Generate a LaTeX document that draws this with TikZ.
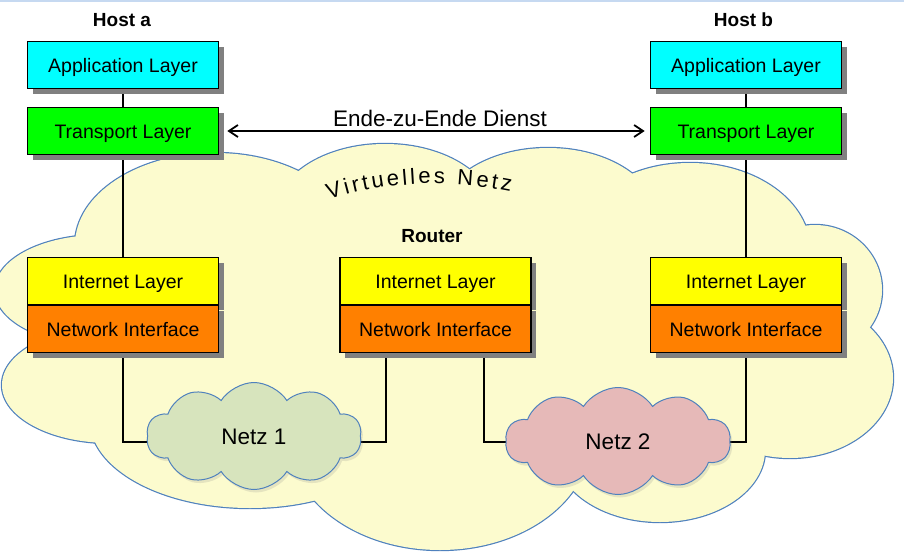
\documentclass[tikz,border=0pt]{standalone}
\usepackage{fontspec}
\setmainfont{Liberation Sans}
\usetikzlibrary{shapes.symbols,shadows,arrows.meta,decorations.text,backgrounds}
\definecolor{cloudfill}{RGB}{252,251,206}
\definecolor{cloudline}{RGB}{79,129,189}
\definecolor{netzA}{RGB}{215,228,189}
\definecolor{netzB}{RGB}{230,185,184}
\definecolor{appcol}{RGB}{0,255,255}
\definecolor{transcol}{RGB}{0,255,0}
\definecolor{inetcol}{RGB}{255,255,0}
\definecolor{niccol}{RGB}{255,128,0}
\definecolor{shadowcol}{RGB}{128,128,128}
\definecolor{toplinecol}{RGB}{198,217,241}
\begin{document}
\begin{tikzpicture}[x=1pt,y=-1pt,
  layerbox/.style={draw=black, line width=1.6pt, minimum width=191pt, minimum height=47pt,
    inner sep=0pt, text height=14pt, text depth=0pt, font=\fontsize{19.5}{23}\selectfont,
    drop shadow={shadow xshift=5pt, shadow yshift=-5pt, fill=shadowcol, opacity=1}},
  hostlabel/.style={font=\bfseries\fontsize{19}{23}\selectfont, anchor=base, inner sep=0pt},
  netzcloud/.style={cloud, cloud puffs=10, cloud puff arc=115, draw=cloudline, line width=1pt,
    inner sep=0pt, text height=16pt, text depth=0pt, font=\fontsize{22.5}{27}\selectfont,
    drop shadow={opacity=0.18, shadow xshift=2pt, shadow yshift=-3pt}},
  conn/.style={draw=black, line width=1.3pt},
  e2e/.style={line width=1.8pt, {Straight Barb[length=9pt,width=12pt]}-{Straight Barb[length=9pt,width=12pt]}}
]
\useasboundingbox (0,0) rectangle (904,557);

% top rule
\draw[toplinecol, line width=1.5pt] (0,0.75) -- (904,0.75);

% labels
\node[hostlabel] (hosta) at (122,26.5) {Host a};
\node[hostlabel] (hostb) at (743.5,26.5) {Host b};
\node[hostlabel] (router) at (432,242) {Router};
\node[anchor=base, inner sep=0pt, font=\fontsize{22.5}{27}\selectfont] (ende) at (440,126) {Ende-zu-Ende Dienst};

% Host a
\node[layerbox, fill=appcol] (aa) at (123,65) {Application Layer};
\node[layerbox, fill=transcol] (ta) at (123,131) {Transport Layer};
\node[layerbox, fill=inetcol] (ia) at (123,281) {Internet Layer};
\node[layerbox, fill=niccol] (na) at (123,329) {Network Interface};

% Router
\node[layerbox, fill=inetcol] (ir) at (435.5,281) {Internet Layer};
\node[layerbox, fill=niccol] (nr) at (435.5,329) {Network Interface};

% Host b
\node[layerbox, fill=appcol] (ab) at (746,65) {Application Layer};
\node[layerbox, fill=transcol] (tb) at (746,131) {Transport Layer};
\node[layerbox, fill=inetcol] (ib) at (746,281) {Internet Layer};
\node[layerbox, fill=niccol] (nb) at (746,329) {Network Interface};

% small networks
\node[netzcloud, fill=netzA, minimum width=215pt, minimum height=107pt] (netz1) at (254,436) {Netz 1};
\node[netzcloud, fill=netzB, minimum width=225pt, minimum height=107pt] (netz2) at (618,441) {Netz 2};

% end-to-end arrow
\draw[e2e] ([xshift=8pt]ta.east) -- ([xshift=-5pt]tb.west);

% big virtual cloud
\begin{scope}[on background layer]
  \foreach \cx/\cy/\rx/\ry in {450/330/380/160, 215/245/140/92, 385/215/110/71, 548/220/110/72,
      690/250/120/87, 815/290/67/65, 790/378/103/80, 660/450/105/72, 440/440/150/110,
      250/420/160/88, 110/385/108/58, 100/290/105/55}
    {\draw[cloudline, line width=2.4pt] (\cx,\cy) ellipse [x radius=\rx pt, y radius=\ry pt];}
  \foreach \cx/\cy/\rx/\ry in {450/330/380/160, 215/245/140/92, 385/215/110/71, 548/220/110/72,
      690/250/120/87, 815/290/67/65, 790/378/103/80, 660/450/105/72, 440/440/150/110,
      250/420/160/88, 110/385/108/58, 100/290/105/55}
    {\fill[cloudfill] (\cx,\cy) ellipse [x radius=\rx pt, y radius=\ry pt];}
  \path[decorate, decoration={text along path,
      text={|\fontsize{22}{26}\selectfont\kern3pt|Virtuelles Netz}, text align=center}]
      (320,203) .. controls (380,181) and (450,178) .. (517,193);
\end{scope}

% connectors
\begin{scope}[on background layer]
  \draw[conn] (aa) -- (ta);
  \draw[conn] (ta) -- (ia);
  \draw[conn] (na.south) |- ([yshift=-6pt]netz1.center);
  \draw[conn] ([xshift=-49.5pt]nr.south) |- ([yshift=-6pt]netz1.center);
  \draw[conn] ([xshift=48.5pt]nr.south) |- ([yshift=-1pt]netz2.center);
  \draw[conn] (ab) -- (tb);
  \draw[conn] (tb) -- (ib);
  \draw[conn] (nb.south) |- ([yshift=-1pt]netz2.center);
\end{scope}
\end{tikzpicture}
\end{document}
